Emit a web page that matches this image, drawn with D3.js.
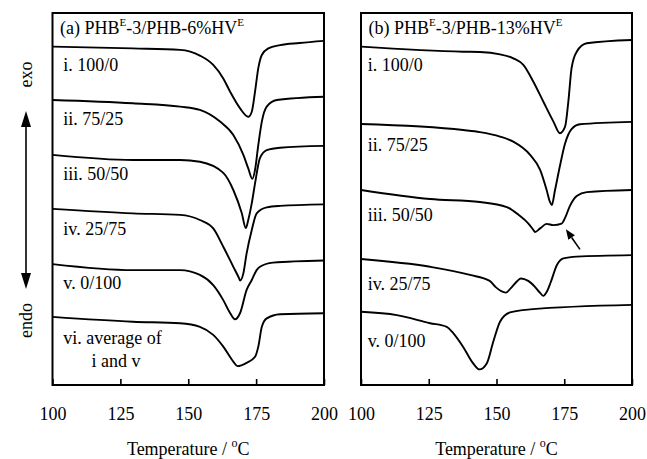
<!DOCTYPE html>
<html>
<head>
<meta charset="utf-8">
<script src="https://d3js.org/d3.v7.min.js"></script>
<style>
  body { margin: 0; background: #fff; }
  text { font-family: 'Liberation Serif', 'Times New Roman', serif; fill: #000; }
</style>
</head>
<body>
<div id="chart"></div>
<script>
// temperature ticks (degC)
const xTicks = [100, 125, 150, 175, 200];

// panel (a): PHB^E-3 / PHB-6%HV^E, [temperature, heat flow (a.u., offset)]
const a_i = [[100,112.8],[129.6,112.2],[147,111.7],[154.3,109.8],[159.2,106.7],[162.9,102.2],[165.4,97.8],[169.1,92.2],[172.1,89.4],[173.4,91.1],[174.6,97.8],[175.8,105.6],[177.1,110],[179.5,112.2],[183.8,113.3],[191,114],[200,114.7]];
const a_ii = [[100,95],[129.6,93.9],[147,92.8],[154.3,91.7],[161.7,87.8],[166.6,83.3],[170.3,76.7],[172.1,72.2],[173.6,68.7],[174.6,71.7],[175.8,80],[177.1,87.8],[178.9,92.8],[182.6,95],[200,96.1]];
const a_iii = [[100,76.7],[129.6,75],[147,75],[154.3,74.4],[162.9,70.7],[166.6,65],[169.7,57.3],[171.2,52.3],[172.1,55],[173.4,60.6],[174.6,67.2],[176.4,75.6],[178.9,78.3],[183.8,79.1],[200,79.7]];
const a_iv = [[100,58.7],[129.6,57.2],[147,56.7],[154.3,55],[159.2,52.2],[162.9,46.1],[166.6,39.4],[168.7,35.6],[169.1,34.8],[170.3,37.2],[171.5,43.9],[173.4,51.7],[175.2,57.2],[178.9,59.2],[183.8,59.7],[200,60.2]];
const a_v = [[100,40.3],[129.6,38.3],[147,38.3],[154.3,36.7],[159.2,33.3],[162.9,28.3],[165.4,24],[167.2,21.9],[169.1,24],[171.5,31.7],[173.4,35],[175.2,38.3],[176.4,39.4],[181.2,40.8],[200,41.5]];
const a_vi = [[100,22.7],[129.6,21.1],[147,20.6],[154.3,19.4],[159.2,16.7],[162.9,12.8],[166.6,7.8],[168.1,6.3],[171.5,7.4],[174.6,9.4],[175.8,12.8],[177.1,19.4],[178.9,22.2],[183.8,23.6],[200,23.9]];

// panel (b): PHB^E-3 / PHB-13%HV^E
const b_i = [[100,112.8],[137.7,111.1],[143.9,111],[151.3,110.2],[156.2,108.9],[159.9,106.7],[163.6,101.1],[167.3,94.4],[171,87.8],[173.4,83.9],[175.3,86.1],[176.5,94.4],[177.7,105.6],[179.6,111.1],[183.3,113.9],[200,115]];
const b_ii = [[100,87],[137.7,85],[143.9,84.3],[151.3,82.8],[156.2,81.1],[162.4,76.7],[166.1,71.7],[168.5,65],[169.7,61.1],[170.4,60],[171.6,65],[173.4,73],[175.3,80.5],[176.5,83.5],[177.7,85.3],[180.8,86.9],[200,87.7]];
const b_iii = [[100,65],[125.5,62],[143.9,61],[153.8,59.3],[158.2,56.7],[161.7,53.9],[163.6,51.7],[164.2,51],[166.1,52.2],[168.5,53.7],[171,53.3],[174,53.8],[175.3,55.7],[177.1,59.7],[179.6,63],[183.3,64.3],[200,65]];
const b_iv = [[100,42],[125.5,39.4],[140.2,36.7],[147.5,34.7],[149.6,32.7],[153.4,30.8],[155.3,32.3],[157.7,34.7],[159,35.5],[161.7,34.7],[164.2,32.7],[166.1,30.7],[167.3,29.7],[168.5,31],[169.9,34],[172.3,40],[174.7,42.2],[179.6,42.8],[200,43.3]];
const b_v = [[100,24.4],[113.2,23.3],[125.5,20.6],[131.6,19.4],[134.1,17.2],[137.7,12.7],[141.4,7.2],[143.7,5.2],[146.4,7.2],[148.8,14.4],[151.3,21.1],[155,24.2],[162.4,25.2],[200,26.7]];

const labelsA = ["i. 100/0", "ii. 75/25", "iii. 50/50", "iv. 25/75", "v. 0/100", "vi. average of", "i and v"];
const labelsB = ["i. 100/0", "ii. 75/25", "iii. 50/50", "iv. 25/75", "v. 0/100"];

const W = 647, H = 459;
const plotTop = 13, plotBottom = 385;

const svg = d3.select("#chart").append("svg")
  .attr("width", W).attr("height", H);

const y = d3.scaleLinear().domain([0, 124]).range([plotBottom, plotTop]);

const panels = [
  { left: 52.5, right: 324, curves: [a_i, a_ii, a_iii, a_iv, a_v, a_vi],
    title: ["(a) PHB", "E", "-3/PHB-6%HV", "E"], labels: labelsA,
    labelY: [104.7, 86.7, 68.3, 50, 32, 13.7, 6.1], labelX: [104, 104, 104, 104, 104, 104, 114.4] },
  { left: 361, right: 632, curves: [b_i, b_ii, b_iii, b_iv, b_v],
    title: ["(b) PHB", "E", "-3/PHB-13%HV", "E"], labels: labelsB,
    labelY: [104.7, 78, 54.7, 31.7, 12.7], labelX: [102.5, 102.5, 102.5, 102.5, 102.5] }
];

panels.forEach((p, pi) => {
  const x = d3.scaleLinear().domain([100, 200]).range([p.left, p.right]);
  const g = svg.append("g");

  // curves
  const ln = d3.line().x(d => x(d[0])).y(d => y(d[1])).curve(d3.curveMonotoneX);
  g.selectAll("path.curve").data(p.curves).join("path")
    .attr("class", "curve")
    .attr("d", ln)
    .attr("fill", "none").attr("stroke", "#000").attr("stroke-width", 1.9);

  // frame
  g.append("rect")
    .attr("x", p.left).attr("y", plotTop)
    .attr("width", p.right - p.left).attr("height", plotBottom - plotTop)
    .attr("fill", "none").attr("stroke", "#000").attr("stroke-width", 2);

  // bottom axis, ticks pointing inward
  const ax = g.append("g").attr("transform", `translate(0,${plotBottom})`)
    .call(d3.axisBottom(x).tickValues(xTicks).tickSizeInner(-6).tickSizeOuter(0).tickPadding(22));
  ax.select(".domain").remove();
  ax.selectAll(".tick line").attr("stroke", "#000").attr("stroke-width", 1.6);
  ax.selectAll(".tick text").attr("font-size", 18)
    .attr("font-family", "'Liberation Serif','Times New Roman',serif");

  // axis title
  const at = g.append("text")
    .attr("x", (p.left + p.right) / 2).attr("y", 455)
    .attr("text-anchor", "middle").attr("font-size", 18);
  at.append("tspan").text("Temperature / ");
  at.append("tspan").text("o").attr("font-size", 12).attr("dy", -8);
  at.append("tspan").text("C").attr("dy", 8);

  // panel title
  const tt = g.append("text")
    .attr("x", p.left + 7.5).attr("y", 34).attr("font-size", 18);
  tt.append("tspan").text(p.title[0]);
  tt.append("tspan").text(p.title[1]).attr("font-size", 11).attr("dy", -8);
  tt.append("tspan").text(p.title[2]).attr("dy", 8);
  tt.append("tspan").text(p.title[3]).attr("font-size", 11).attr("dy", -8);

  // curve labels
  p.labels.forEach((s, i) => {
    g.append("text")
      .attr("x", x(p.labelX[i])).attr("y", y(p.labelY[i]))
      .attr("font-size", 18).text(s);
  });

  // arrow pointing at the shoulder in (b) iii
  if (pi === 1) {
    const tip = [x(175.6), y(51.9)], tail = [x(180.8), y(45.2)];
    const ang = Math.atan2(tip[1] - tail[1], tip[0] - tail[0]);
    const L = 10, w = 4;
    const bx = tip[0] - L * Math.cos(ang), by = tip[1] - L * Math.sin(ang);
    g.append("line")
      .attr("x1", tail[0]).attr("y1", tail[1]).attr("x2", bx).attr("y2", by)
      .attr("stroke", "#000").attr("stroke-width", 1.6);
    g.append("path")
      .attr("d", `M${tip[0]},${tip[1]}L${bx + w * Math.sin(ang)},${by - w * Math.cos(ang)}L${bx - w * Math.sin(ang)},${by + w * Math.cos(ang)}Z`)
      .attr("fill", "#000");
  }
});

// exo / endo double arrow
const ax0 = 26;
svg.append("line").attr("x1", ax0).attr("x2", ax0).attr("y1", 122).attr("y2", 278)
  .attr("stroke", "#000").attr("stroke-width", 1.6);
svg.append("path").attr("d", `M${ax0},111L${ax0 - 5},127L${ax0 + 5},127Z`).attr("fill", "#000");
svg.append("path").attr("d", `M${ax0},289L${ax0 - 5},273L${ax0 + 5},273Z`).attr("fill", "#000");

svg.append("text").attr("transform", "translate(32,74.5) rotate(-90)")
  .attr("text-anchor", "middle").attr("font-size", 18).text("exo");
svg.append("text").attr("transform", "translate(32,320.5) rotate(-90)")
  .attr("text-anchor", "middle").attr("font-size", 18).text("endo");
</script>
</body>
</html>
